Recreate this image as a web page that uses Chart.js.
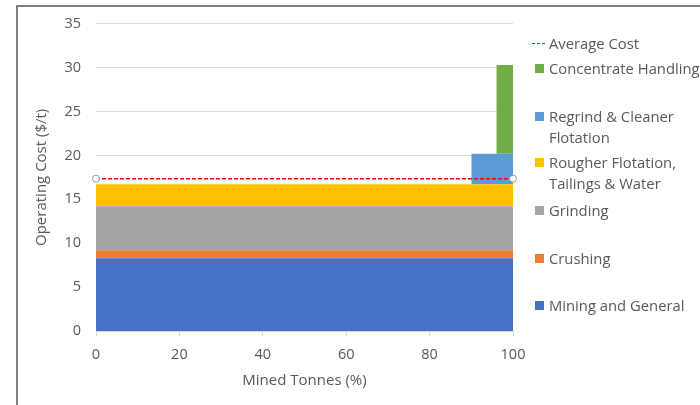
<!DOCTYPE html>
<html>
<head>
<meta charset="utf-8">
<script src="https://cdn.jsdelivr.net/npm/chart.js@4"></script>
<style>
  body { margin: 0; background: #fff; font-family: "Open Sans", sans-serif; }
  #wrap { position: relative; width: 700px; height: 405px; overflow: hidden; }
  #frame { position: absolute; left: 16px; top: 5px; width: 800px; height: 500px;
           border-left: 2px solid #808080; border-top: 2px solid #808080; pointer-events: none; }
  .leg { position: absolute; left: 549px; color: #595959; font-size: 14.8px; line-height: 21px; white-space: nowrap; }
  .sw { position: absolute; left: -14px; top: 6px; width: 9px; height: 9px; }
  .dash { position: absolute; left: -17px; top: 9px; width: 15px; height: 3px; }
</style>
</head>
<body>
<div id="wrap">
  <canvas id="costChart" width="700" height="405"></canvas>
  <div id="legend"></div>
  <div id="frame"></div>
</div>
<script>
// cost stages, bottom to top
const stageNames = ['Mining and General', 'Crushing', 'Grinding',
  ['Rougher Flotation,', 'Tailings & Water'], ['Regrind & Cleaner', 'Flotation'], 'Concentrate Handling'];
const stageFrom = [0, 0, 0, 0, 90, 96];          // mined tonnes (%) where the stage starts
const stageTo = [100, 100, 100, 100, 100, 100];
const stageBase = [0, 8.3, 9.2, 14.2, 16.7, 20.2]; // $/t
const stageTop = [8.3, 9.2, 14.2, 16.7, 20.2, 30.3];
const stageColors = ['#4472C4', '#ED7D31', '#A5A5A5', '#FFC000', '#5B9BD5', '#70AD47'];

const averageLabel = 'Average Cost';
const averageCost = 17.35;
const averageFrom = 0, averageTo = 100;

const xTicks = [0, 20, 40, 60, 80, 100];
const yTicks = [0, 5, 10, 15, 20, 25, 30, 35];

const PLOT_LEFT = 96, PLOT_BOTTOM = 331;
const textColor = '#595959';
const gridColor = '#D9D9D9';

const datasets = [{
  label: averageLabel,
  data: [{x: averageFrom, y: averageCost}, {x: averageTo, y: averageCost}],
  borderColor: '#FF0000',
  borderDash: [4, 2],
  borderWidth: 1.5,
  pointRadius: 3.5,
  pointBackgroundColor: '#ffffff',
  pointBorderColor: '#999999',
  pointBorderWidth: 1,
  fill: false,
  clip: false,
  order: 0
}];

stageNames.forEach((name, i) => {
  datasets.push({
    label: Array.isArray(name) ? name.join(' ') : name,
    data: [{x: stageFrom[i], y: stageTop[i]}, {x: stageTo[i], y: stageTop[i]}],
    fill: {value: stageBase[i]},
    backgroundColor: stageColors[i],
    borderColor: 'transparent',
    borderWidth: 0,
    pointRadius: 0,
    order: 1
  });
});

new Chart(document.getElementById('costChart').getContext('2d'), {
  type: 'line',
  data: { datasets: datasets },
  options: {
    responsive: false,
    animation: false,
    events: [],
    layout: { padding: { top: 22, right: 187, left: 0, bottom: 0 } },
    plugins: { legend: { display: false }, tooltip: { enabled: false } },
    scales: {
      x: {
        type: 'linear', min: 0, max: 100,
        afterBuildTicks: s => { s.ticks = xTicks.map(v => ({value: v})); },
        afterFit: s => { s.height = 405 - PLOT_BOTTOM; },
        grid: { drawOnChartArea: false, drawTicks: true, tickLength: 5, color: gridColor },
        border: { color: gridColor },
        ticks: { color: textColor, font: { family: 'Open Sans', size: 14.5 }, padding: 10 },
        title: { display: true, text: 'Mined Tonnes (%)', color: textColor,
                 font: { family: 'Open Sans', size: 15 }, padding: { top: 0, bottom: 15 } }
      },
      y: {
        min: 0, max: 35,
        afterBuildTicks: s => { s.ticks = yTicks.map(v => ({value: v})); },
        afterFit: s => { s.width = PLOT_LEFT; },
        grid: { drawTicks: false, color: gridColor },
        border: { display: false },
        ticks: { color: textColor, font: { family: 'Open Sans', size: 14.5 }, padding: 15 },
        title: { display: true, text: 'Operating Cost ($/t)', color: textColor,
                 font: { family: 'Open Sans', size: 15 }, padding: { top: 33, bottom: 0 } }
      }
    }
  }
});

// legend on the right, top item first
const legendTops = [32.5, 58, 105.5, 151.5, 200, 247.5, 294.5];
const legend = document.getElementById('legend');
const items = [{name: averageLabel, color: null}];
for (let i = stageNames.length - 1; i >= 0; i--) items.push({name: stageNames[i], color: stageColors[i]});
items.forEach((it, k) => {
  const div = document.createElement('div');
  div.className = 'leg';
  div.style.top = legendTops[k] + 'px';
  if (it.color) {
    const mark = document.createElement('span');
    mark.className = 'sw';
    mark.style.background = it.color;
    div.appendChild(mark);
  } else {
    div.insertAdjacentHTML('beforeend',
      '<svg class="dash" width="15" height="3"><line x1="0" y1="1.5" x2="15" y2="1.5" ' +
      'stroke="#ff0000" stroke-width="1.2" stroke-dasharray="3 2"/></svg>');
  }
  const lines = Array.isArray(it.name) ? it.name : [it.name];
  lines.forEach((t, j) => {
    if (j) div.appendChild(document.createElement('br'));
    div.appendChild(document.createTextNode(t));
  });
  legend.appendChild(div);
});
</script>
</body>
</html>
